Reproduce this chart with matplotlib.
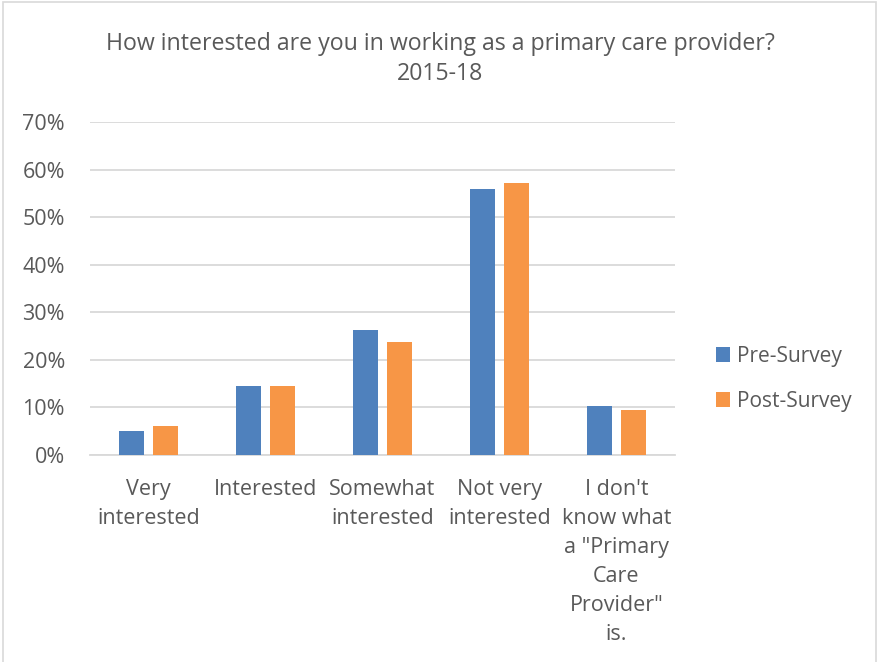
import numpy as np
import matplotlib.pyplot as plt
from matplotlib.patches import Rectangle

# survey answers, share of respondents
categories = ["Very\ninterested", "Interested", "Somewhat\ninterested",
              "Not very\ninterested",
              "I don't\nknow what\na \"Primary\nCare\nProvider\"\nis."]
pre_survey = [0.050, 0.146, 0.262, 0.559, 0.103]
post_survey = [0.062, 0.144, 0.237, 0.571, 0.094]
series_names = ["Pre-Survey", "Post-Survey"]
yticks = [0, 0.1, 0.2, 0.3, 0.4, 0.5, 0.6, 0.7]

BLUE = "#4F81BD"
ORANGE = "#F79646"
TEXT = "#595959"
GRID = "#D9D9D9"

plt.rcParams['font.family'] = ['Open Sans', 'DejaVu Sans']

W, H = 878, 662
fig = plt.figure(figsize=(W / 100, H / 100), dpi=100)

# chart area frame
fig.patches.append(Rectangle((3 / W, -0.01), (873 / W), 1 - 2 / H + 0.01,
                             transform=fig.transFigure, fill=False,
                             edgecolor="#D9D9D9", lw=1.2))

ax = fig.add_axes([90 / W, (H - 455) / H, 585 / W, 333 / H])

x = np.arange(len(categories))
bw = 0.22
off = 0.145
ax.bar(x - off, pre_survey, bw, color=BLUE, label=series_names[0], zorder=3)
ax.bar(x + off, post_survey, bw, color=ORANGE, label=series_names[1], zorder=3)

ax.set_xlim(-0.5, len(categories) - 0.5)
ax.set_ylim(0, 0.7)
ax.set_yticks(yticks)
ax.set_yticklabels([f"{int(round(t * 100))}%" for t in yticks])
ax.yaxis.grid(True, color=GRID, lw=1.3, zorder=0)
ax.set_axisbelow(True)
for s in ["top", "right", "left"]:
    ax.spines[s].set_visible(False)
ax.spines["bottom"].set_color(GRID)
ax.spines["bottom"].set_linewidth(1.3)

ax.set_xticks(x)
ax.set_xticklabels(categories, linespacing=1.5)
ax.tick_params(axis="both", length=0, colors=TEXT, labelsize=15.5)
ax.tick_params(axis="x", pad=17)
ax.tick_params(axis="y", pad=18)

fig.text(440 / W, 1 - 44 / H,
         "How interested are you in working as a primary care provider?",
         ha="center", va="center", fontsize=16.7, color=TEXT)
fig.text(440 / W, 1 - 74 / H, "2015-18",
         ha="center", va="center", fontsize=16.7, color=TEXT)

fig.legend(loc="center left", bbox_to_anchor=(697 / W, 1 - 379 / H),
           frameon=False, fontsize=15, labelcolor=TEXT,
           handlelength=0.7, handleheight=0.7, handletextpad=0.3,
           labelspacing=1.15)

fig.savefig("out.png", dpi=100)
